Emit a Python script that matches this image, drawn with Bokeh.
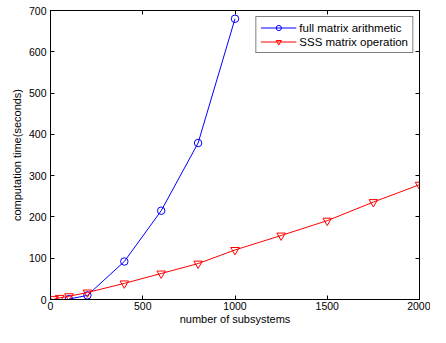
from bokeh.plotting import figure
from bokeh.models import LinearAxis, FixedTicker, Range1d, Legend, LegendItem
from bokeh.embed import file_html
from bokeh.resources import INLINE

full_x = [100, 200, 400, 600, 800, 1000]
full_y = [1, 10, 92, 215, 379, 680]
sss_x = [20, 50, 100, 200, 400, 600, 800, 1000, 1250, 1500, 1750, 2000]
sss_y = [1, 4, 8, 17, 39, 63, 87, 120, 155, 191, 236, 278]
x_ticks = [0, 500, 1000, 1500, 2000]
y_ticks = [0, 100, 200, 300, 400, 500, 600, 700]

FONT = "Liberation Sans"

p = figure(width=430, height=327, output_backend="svg", toolbar_location=None,
           x_range=Range1d(0, 2000), y_range=Range1d(0, 700),
           min_border_left=50, min_border_right=11, min_border_top=10, min_border_bottom=26)
p.background_fill_color = "white"
p.border_fill_color = "white"
p.outline_line_color = "black"
p.outline_line_width = 1
p.grid.visible = False

for ax, ticks in ((p.xaxis[0], x_ticks), (p.yaxis[0], y_ticks)):
    ax.ticker = FixedTicker(ticks=ticks)
    ax.major_tick_in = 4
    ax.major_tick_out = 0
    ax.minor_tick_line_color = None
    ax.axis_line_color = "black"
    ax.major_tick_line_color = "black"
    ax.major_label_text_font = FONT
    ax.major_label_text_font_size = "10.5px"
    ax.major_label_text_color = "black"
    ax.axis_label_text_font = FONT
    ax.axis_label_text_font_size = "11px"
    ax.axis_label_text_font_style = "normal"
    ax.axis_label_text_color = "black"

p.xaxis[0].axis_label = "number of subsystems"
p.yaxis[0].axis_label = "computation time(seconds)"
p.xaxis[0].major_label_standoff = 2
p.xaxis[0].axis_label_standoff = 0
p.yaxis[0].major_label_standoff = 4
p.yaxis[0].axis_label_standoff = 3

for loc, ticks in (("above", x_ticks), ("right", y_ticks)):
    ax = LinearAxis(ticker=FixedTicker(ticks=ticks))
    ax.major_tick_in = 4
    ax.major_tick_out = 0
    ax.minor_tick_line_color = None
    ax.major_label_text_color = None
    ax.major_label_text_font_size = "1px"
    ax.major_label_standoff = 0
    ax.axis_line_color = "black"
    p.add_layout(ax, loc)

l1 = p.line(full_x, full_y, line_color="#0000ff", line_width=1)
s1 = p.scatter(full_x, full_y, marker="circle", size=7.5, fill_color=None,
               line_color="#0000ff", line_width=1)
l2 = p.line(sss_x, sss_y, line_color="#ff0000", line_width=1)
s2 = p.scatter(sss_x, sss_y, marker="inverted_triangle", size=8.5, fill_color=None,
               line_color="#ff0000", line_width=1)

legend = Legend(items=[LegendItem(label="full matrix arithmetic", renderers=[l1, s1]),
                       LegendItem(label="SSS matrix operation", renderers=[l2, s2])],
                location="top_right")
legend.label_text_font = FONT
legend.label_text_font_size = "11.5px"
legend.label_text_color = "black"
legend.glyph_width = 36
legend.glyph_height = 13
legend.label_height = 13
legend.label_width = 108
legend.label_standoff = 3
legend.spacing = 1
legend.padding = 4
legend.margin = 6
legend.border_line_color = "black"
legend.border_line_width = 1
legend.background_fill_color = "white"
legend.background_fill_alpha = 1
p.add_layout(legend)

open("out.html", "w").write(file_html(p, INLINE))
